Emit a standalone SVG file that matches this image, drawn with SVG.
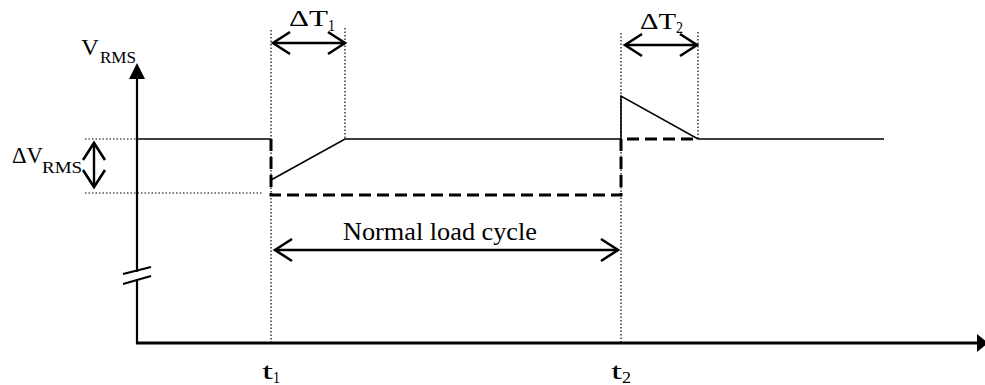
<svg xmlns="http://www.w3.org/2000/svg" width="985" height="385" viewBox="0 0 985 385">
<style>
.txt{fill:#000}
.big{font-size:23px}
.sub{font-size:16px}
.solid{stroke:#000;stroke-width:1.6;fill:none}
.dash{stroke:#000;stroke-width:3;fill:none;stroke-dasharray:12 6}
.dot{stroke:#000;stroke-width:1.2;fill:none;stroke-dasharray:1.5 2}
.axis{stroke:#000;fill:none}
.dbl{stroke:#000;stroke-width:2.4;fill:none;marker-start:url(#chev);marker-end:url(#chev)}
</style>
<defs>
<marker id="chev" markerUnits="userSpaceOnUse" viewBox="-2 -2 22 26" markerWidth="22" markerHeight="26" refX="17" refY="11" orient="auto-start-reverse">
<path d="M0,0 L17,11 L0,22" stroke="#000" stroke-width="2.6" fill="none"/>
</marker>
</defs>
<g id="axes">
<line class="axis" x1="137" y1="78" x2="137" y2="272" stroke-width="2.2"/>
<line class="axis" x1="137" y1="279" x2="137" y2="344" stroke-width="2.2"/>
<polygon points="137,63 129,79 145,79" fill="#000"/>
<line class="axis" x1="123" y1="274" x2="151" y2="267" stroke-width="2"/>
<line class="axis" x1="123" y1="284" x2="151" y2="276" stroke-width="2"/>
<line class="axis" x1="136" y1="343" x2="978" y2="343" stroke-width="3"/>
<polygon points="988,343 977,334 977,352" fill="#000"/>
</g>
<g id="guides">
<line class="dot" x1="271" y1="30" x2="271" y2="343"/>
<line class="dot" x1="345" y1="28" x2="345" y2="139"/>
<line class="dot" x1="621" y1="33" x2="621" y2="343"/>
<line class="dot" x1="698" y1="32" x2="698" y2="139"/>
<line class="dot" x1="85" y1="139" x2="137" y2="139"/>
<line class="dot" x1="85" y1="193" x2="262" y2="193"/>
</g>
<g id="signal">
<polyline class="solid" points="137,139 271,139"/>
<polyline class="solid" points="271,180 345,139 621,139"/>
<polyline class="solid" points="621,139 621,96 698,139 884,139"/>
<polyline class="dash" points="271,139 271,195 621,195 621,139 698,139"/>
</g>
<g id="connectors">
<line class="dbl" x1="273" y1="43" x2="345" y2="43"/>
<line class="dbl" x1="625" y1="45" x2="697" y2="45"/>
<line class="dbl" x1="94" y1="143" x2="94" y2="187"/>
<line class="dbl" x1="275" y1="250" x2="618" y2="250"/>
</g>
<g id="labels" font-family="'Liberation Serif', 'Times New Roman', serif">
<text class="txt big" x="81" y="55" textLength="18" lengthAdjust="spacingAndGlyphs">V</text>
<text class="txt sub" x="100" y="63" textLength="36" lengthAdjust="spacingAndGlyphs">RMS</text>
<text class="txt big" x="12" y="163" textLength="31" lengthAdjust="spacingAndGlyphs">ΔV</text>
<text class="txt sub" x="42" y="173" textLength="40" lengthAdjust="spacingAndGlyphs">RMS</text>
<text class="txt big" x="289" y="26" textLength="39" lengthAdjust="spacingAndGlyphs">ΔT</text>
<text class="txt sub" x="328" y="31" textLength="7" lengthAdjust="spacingAndGlyphs">1</text>
<text class="txt big" x="640" y="29" textLength="36" lengthAdjust="spacingAndGlyphs">ΔT</text>
<text class="txt sub" x="676" y="33" textLength="7" lengthAdjust="spacingAndGlyphs">2</text>
<text class="txt" x="343" y="240" font-size="25" textLength="194" lengthAdjust="spacingAndGlyphs">Normal load cycle</text>
<text class="txt big" x="262" y="379" textLength="11" lengthAdjust="spacingAndGlyphs">t</text>
<text class="txt sub" x="273" y="383" textLength="7" lengthAdjust="spacingAndGlyphs">1</text>
<text class="txt big" x="611" y="379" textLength="11" lengthAdjust="spacingAndGlyphs">t</text>
<text class="txt sub" x="622" y="383" textLength="9" lengthAdjust="spacingAndGlyphs">2</text>
</g>
</svg>
